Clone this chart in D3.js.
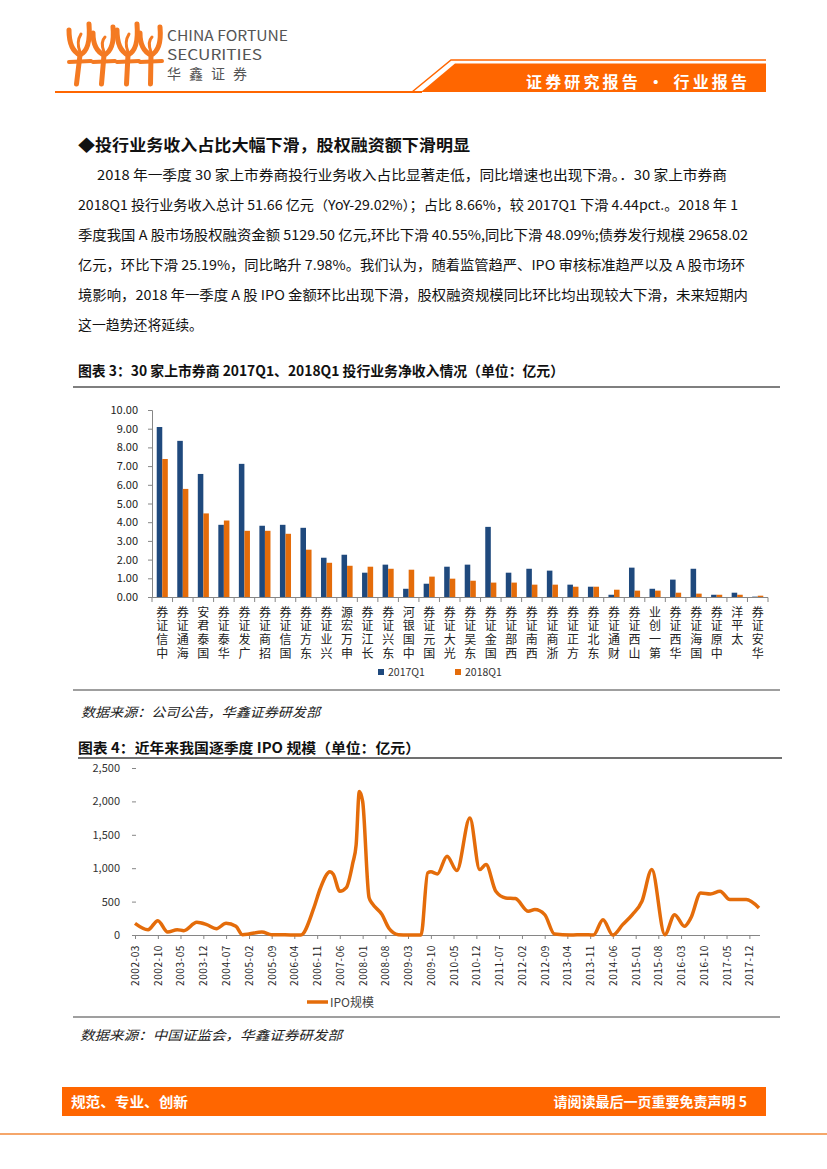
<!DOCTYPE html>
<html>
<head>
<meta charset="utf-8">
<script src="https://cdn.jsdelivr.net/npm/d3@7"></script>
<style>
  body { margin: 0; background: #fff; }
  svg { display: block; }
  text { font-family: "Noto Sans CJK SC", "Noto Sans", sans-serif; }
  .vlabel { writing-mode: vertical-rl; text-orientation: upright; }
</style>
</head>
<body>
<svg id="page" width="827" height="1169"></svg>
<script>
// ---- data: chart 3 (30 brokers, investment banking net income, 亿元)
const brokers = ["中信证券","海通证券","国泰君安","华泰证券","广发证券","招商证券","国信证券","东方证券","兴业证券","申万宏源",
  "长江证券","东兴证券","中国银河","国元证券","光大证券","东吴证券","国金证券","西部证券","西南证券","浙商证券",
  "方正证券","东北证券","财通证券","山西证券","第一创业","华西证券","国海证券","中原证券","太平洋","华安证券"];
const income2017Q1 = [9.09,8.35,6.58,3.86,7.12,3.81,3.86,3.70,2.10,2.26,1.30,1.73,0.44,0.71,1.62,1.73,3.75,1.30,1.51,1.41,
  0.66,0.55,0.12,1.57,0.44,0.93,1.51,0.12,0.23,0.02];
const income2018Q1 = [7.38,5.78,4.47,4.09,3.54,3.54,3.38,2.53,1.83,1.67,1.62,1.51,1.46,1.09,0.98,0.87,0.77,0.77,0.66,0.66,
  0.55,0.55,0.39,0.34,0.34,0.23,0.18,0.12,0.12,0.07];
const seriesNames = ["2017Q1", "2018Q1"];
const barTicks = [0,1,2,3,4,5,6,7,8,9,10];

// ---- data: chart 4 (IPO size, 亿元)
const ipoMonths = ["2002-03","2002-07","2002-10","2003-01","2003-04","2003-06","2003-10","2004-01","2004-04","2004-07",
  "2004-10","2004-12","2005-02","2005-06","2005-09","2006-01","2006-06","2006-10","2006-12","2007-03",
  "2007-04","2007-06","2007-08","2007-10","2007-11","2007-12","2008-01","2008-03","2008-04","2008-07",
  "2008-09","2008-12","2009-03","2009-07","2009-09","2009-10","2009-12","2010-03","2010-06","2010-10",
  "2011-01","2011-03","2011-06","2011-09","2011-12","2012-04","2012-06","2012-09","2012-12","2013-05",
  "2013-09","2013-12","2014-03","2014-06","2014-09","2014-12","2015-03","2015-06","2015-10","2016-01",
  "2016-04","2016-06","2016-09","2016-12","2017-03","2017-06","2017-11","2018-03"];
const ipoValues = [175,80,215,45,80,65,190,155,95,175,
  130,5,15,45,5,3,0,405,700,945,
  910,655,710,1080,1350,2150,2000,560,470,305,
  105,5,0,0,930,945,915,1180,965,1750,
  980,1055,655,555,545,355,380,305,15,0,
  5,0,230,0,155,305,505,980,5,305,
  130,255,630,615,655,530,530,405];
const ipoTickLabels = ["2002-03","2002-10","2003-05","2003-12","2004-07","2005-02","2005-09","2006-04","2006-11","2007-06",
  "2008-01","2008-08","2009-03","2009-10","2010-05","2010-12","2011-07","2012-02","2012-09","2013-04",
  "2013-11","2014-06","2015-01","2015-08","2016-03","2016-10","2017-05","2017-12"];
const ipoYTicks = [0,500,1000,1500,2000,2500];

const paragraph = [
  "2018 年一季度 30 家上市券商投行业务收入占比显著走低，同比增速也出现下滑。．30 家上市券商",
  "2018Q1 投行业务收入总计 51.66 亿元（YoY-29.02%）；占比 8.66%，较 2017Q1 下滑 4.44pct.。2018 年 1",
  "季度我国 A 股市场股权融资金额 5129.50 亿元,环比下滑 40.55%,同比下滑 48.09%;债券发行规模 29658.02",
  "亿元，环比下滑 25.19%，同比略升 7.98%。我们认为，随着监管趋严、IPO 审核标准趋严以及 A 股市场环",
  "境影响，2018 年一季度 A 股 IPO 金额环比出现下滑，股权融资规模同比环比均出现较大下滑，未来短期内",
  "这一趋势还将延续。"
];
const paraWidths = [630, 660, 670, 667, 670, 125];

const ORANGE = "#ff6600";
const BLUE = "#1f497d";
const BAR_ORANGE = "#e46c0a";

const svg = d3.select("#page");

// ---------- header logo: four torch figures
const logo = svg.append("g").attr("fill", "none").attr("stroke", "#f47a22").attr("stroke-linecap", "round");
[80, 104, 128, 151].forEach(function (cx, i) {
  const top = i % 2 ? 27 : 24;
  logo.append("path").attr("stroke-width", 5)
    .attr("d", `M${cx - 11},${top + 6} Q${cx - 11},${50} ${cx},${55} Q${cx + 11},${50} ${cx + 9},${top}`);
  logo.append("path").attr("stroke-width", 3)
    .attr("d", `M${cx},${52} Q${cx - 4},${42} ${cx + 1},${top + 10}`);
  logo.append("path").attr("stroke-width", 5)
    .attr("d", `M${cx},${55} L${cx - 2 + (i - 1.5)},${84}`);
  logo.append("path").attr("stroke-width", 4)
    .attr("d", `M${cx - 11},${62} L${cx + 11},${61}`);
});
svg.append("text").attr("x", 167).attr("y", 41).attr("font-size", 14).attr("fill", "#555")
  .attr("font-family", "Roboto, sans-serif").attr("textLength", 121).attr("lengthAdjust", "spacingAndGlyphs")
  .text("CHINA FORTUNE");
svg.append("text").attr("x", 167).attr("y", 60).attr("font-size", 14).attr("fill", "#555")
  .attr("font-family", "Roboto, sans-serif").attr("textLength", 95).attr("lengthAdjust", "spacingAndGlyphs")
  .text("SECURITIES");
svg.append("text").attr("x", 167).attr("y", 79).attr("font-size", 14).attr("fill", "#555")
  .attr("textLength", 80).attr("lengthAdjust", "spacing").text("华鑫证券");

svg.append("path").attr("d", "M412,92 L451,60 L766,60").attr("fill", "none")
  .attr("stroke", ORANGE).attr("stroke-width", 1.5);
svg.append("path").attr("d", "M421,92 L455,63.5 L766,63.5 L766,92 Z").attr("fill", ORANGE);
svg.append("line").attr("x1", 55).attr("x2", 422).attr("y1", 92).attr("y2", 92)
  .attr("stroke", ORANGE).attr("stroke-width", 2);
svg.append("text").attr("x", 526).attr("y", 88).attr("font-size", 16).attr("font-weight", "bold")
  .attr("fill", "#fff").attr("textLength", 221).attr("lengthAdjust", "spacing").text("证券研究报告 · 行业报告");

// ---------- heading + paragraph
svg.append("text").attr("x", 78).attr("y", 151).attr("font-size", 16).attr("font-weight", "bold")
  .attr("fill", "#111").attr("textLength", 392).attr("lengthAdjust", "spacingAndGlyphs")
  .text("◆投行业务收入占比大幅下滑，股权融资额下滑明显");

paragraph.forEach(function (line, i) {
  svg.append("text").attr("x", i === 0 ? 97 : 78).attr("y", 180 + i * 30)
    .attr("font-size", 13.5).attr("fill", "#111")
    .attr("textLength", paraWidths[i]).attr("lengthAdjust", "spacingAndGlyphs").text(line);
});

// ---------- chart 3 title
svg.append("text").attr("x", 78).attr("y", 376).attr("font-size", 14).attr("font-weight", "bold")
  .attr("fill", "#111").attr("textLength", 486).attr("lengthAdjust", "spacingAndGlyphs")
  .text("图表 3：30 家上市券商 2017Q1、2018Q1 投行业务净收入情况（单位：亿元）");
svg.append("line").attr("x1", 73).attr("x2", 780).attr("y1", 387).attr("y2", 387)
  .attr("stroke", "#7f7f7f").attr("stroke-width", 2.2);

// ---------- chart 3 bars
const bx = d3.scaleBand().domain(brokers).range([152, 768]).paddingInner(0.46).paddingOuter(0.23);
const bxs = d3.scaleBand().domain(seriesNames).range([0, bx.bandwidth()]);
const by = d3.scaleLinear().domain([0, 10]).range([597, 410]);

const barRows = brokers.map(function (b, i) {
  return { name: b, values: [income2017Q1[i], income2018Q1[i]] };
});
const barG = svg.append("g");
barG.selectAll("g").data(barRows).join("g")
  .attr("transform", d => `translate(${bx(d.name)},0)`)
  .selectAll("rect")
  .data(d => d.values.map((v, k) => ({ k: k, v: v })))
  .join("rect")
  .attr("x", d => bxs(seriesNames[d.k]))
  .attr("width", bxs.bandwidth())
  .attr("y", d => by(d.v))
  .attr("height", d => by(0) - by(d.v))
  .attr("fill", d => d.k === 0 ? BLUE : BAR_ORANGE);

const yAxis = svg.append("g").attr("transform", "translate(152,0)")
  .call(d3.axisLeft(by).tickValues(barTicks).tickFormat(d3.format(".2f")).tickSize(4).tickPadding(10));
yAxis.selectAll("text").attr("font-family", "DejaVu Sans, sans-serif").attr("font-size", 11).attr("fill", "#222");
yAxis.selectAll("line, path").attr("stroke", "#868686");

// x axis with Excel-style ticks between categories
const xAxisG = svg.append("g");
xAxisG.append("line").attr("x1", 152).attr("x2", 768).attr("y1", 597.5).attr("y2", 597.5).attr("stroke", "#868686");
xAxisG.selectAll("line.tk").data(d3.range(brokers.length + 1)).join("line").attr("class", "tk")
  .attr("x1", i => 152 + i * bx.step()).attr("x2", i => 152 + i * bx.step())
  .attr("y1", 597.5).attr("y2", 602).attr("stroke", "#868686");

// stacked category labels: characters read from bottom to top, glyphs upright
svg.append("g").attr("font-size", 12).attr("fill", "#222")
  .selectAll("text").data(brokers).join("text")
  .attr("class", "vlabel")
  .attr("x", b => bx(b) + bx.bandwidth() / 2)
  .attr("y", 606)
  .attr("letter-spacing", 1.75)
  .text(b => b.split("").reverse().join(""));

// legend
const lg = svg.append("g").attr("font-family", "DejaVu Sans, sans-serif").attr("font-size", 10.5).attr("fill", "#333");
seriesNames.forEach(function (s, k) {
  const lx = 378 + k * 77;
  lg.append("rect").attr("x", lx).attr("y", 669).attr("width", 6).attr("height", 6)
    .attr("fill", k === 0 ? BLUE : BAR_ORANGE);
  lg.append("text").attr("x", lx + 10).attr("y", 676).text(s);
});

svg.append("line").attr("x1", 73).attr("x2", 780).attr("y1", 690).attr("y2", 690)
  .attr("stroke", "#7f7f7f").attr("stroke-width", 1.5);
svg.append("text").attr("x", 81).attr("y", 717).attr("font-size", 13).attr("font-style", "italic")
  .attr("fill", "#222").text("数据来源：公司公告，华鑫证券研发部")
  .attr("textLength", 239).attr("lengthAdjust", "spacingAndGlyphs");

// ---------- chart 4 title
svg.append("text").attr("x", 78).attr("y", 753).attr("font-size", 14).attr("font-weight", "bold")
  .attr("fill", "#111").attr("textLength", 342).attr("lengthAdjust", "spacingAndGlyphs")
  .text("图表 4：近年来我国逐季度 IPO 规模（单位：亿元）");
svg.append("line").attr("x1", 78).attr("x2", 782).attr("y1", 758).attr("y2", 758)
  .attr("stroke", "#404040").attr("stroke-width", 1.5);

// ---------- chart 4 line
const parseMonth = d3.timeParse("%Y-%m");
const lx = d3.scaleTime().domain([parseMonth("2002-03"), parseMonth("2018-03")]).range([135, 759]);
const ly = d3.scaleLinear().domain([0, 2500]).range([935, 768]);

const ipoRows = ipoMonths.map((m, i) => ({ date: parseMonth(m), value: ipoValues[i] }));

const lyAxis = svg.append("g").attr("transform", "translate(136,0)")
  .call(d3.axisLeft(ly).tickValues(ipoYTicks).tickFormat(d3.format(",")).tickSize(4).tickPadding(12));
lyAxis.select("path").remove();
lyAxis.selectAll("line").attr("stroke", "#868686");
lyAxis.selectAll("text").attr("font-family", "DejaVu Sans, sans-serif").attr("font-size", 11).attr("fill", "#333");

const lxAxis = svg.append("g").attr("transform", "translate(0,935)")
  .call(d3.axisBottom(lx).tickValues(ipoTickLabels.map(parseMonth)).tickFormat(d3.timeFormat("%Y-%m"))
    .tickSize(4).tickSizeOuter(0));
lxAxis.select("path").attr("stroke", "#868686").attr("d", "M132,0.5H760");
lxAxis.selectAll("line").attr("stroke", "#868686");
lxAxis.selectAll("text")
  .attr("font-family", "DejaVu Sans, sans-serif").attr("font-size", 10).attr("letter-spacing", 0.6)
  .attr("fill", "#222").attr("text-anchor", "end").attr("dy", "0.35em")
  .attr("transform", "translate(0,10) rotate(-90)").attr("x", 0).attr("y", 0);

const line = d3.line().x(d => lx(d.date)).y(d => ly(d.value)).curve(d3.curveMonotoneX);
svg.append("path").datum(ipoRows).attr("d", line).attr("fill", "none")
  .attr("stroke", BAR_ORANGE).attr("stroke-width", 3.5).attr("stroke-linejoin", "round");

// legend
svg.append("line").attr("x1", 307).attr("x2", 328).attr("y1", 1002).attr("y2", 1002)
  .attr("stroke", BAR_ORANGE).attr("stroke-width", 3.5);
svg.append("text").attr("x", 330).attr("y", 1007).attr("font-size", 12).attr("fill", "#444").text("IPO规模");

svg.append("line").attr("x1", 73).attr("x2", 780).attr("y1", 1017).attr("y2", 1017)
  .attr("stroke", "#7f7f7f").attr("stroke-width", 1.5);
svg.append("text").attr("x", 80).attr("y", 1040).attr("font-size", 13).attr("font-style", "italic")
  .attr("fill", "#222").attr("textLength", 262).attr("lengthAdjust", "spacingAndGlyphs")
  .text("数据来源：中国证监会，华鑫证券研发部");

// ---------- footer
svg.append("rect").attr("x", 62).attr("y", 1087).attr("width", 704).attr("height", 29).attr("fill", ORANGE);
svg.append("text").attr("x", 71).attr("y", 1107).attr("font-size", 14).attr("font-weight", "bold")
  .attr("fill", "#fff").attr("textLength", 117).attr("lengthAdjust", "spacingAndGlyphs").text("规范、专业、创新");
svg.append("text").attr("x", 747).attr("y", 1107).attr("font-size", 14).attr("font-weight", "bold")
  .attr("fill", "#fff").attr("text-anchor", "end").text("请阅读最后一页重要免责声明 5");
svg.append("line").attr("x1", 0).attr("x2", 827).attr("y1", 1134).attr("y2", 1134)
  .attr("stroke", "#f5a66a").attr("stroke-width", 2);
</script>
</body>
</html>
